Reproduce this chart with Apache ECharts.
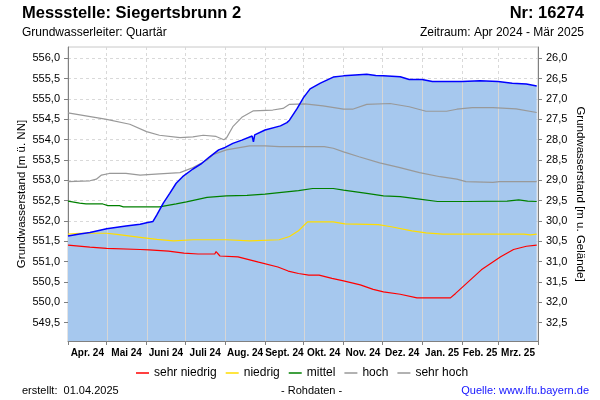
<!DOCTYPE html>
<html><head><meta charset="utf-8">
<script src="https://cdn.jsdelivr.net/npm/echarts@6/dist/echarts.min.js"></script>
<style>html,body{margin:0;padding:0;background:#fff}#c{width:600px;height:400px}</style>
</head><body><div id="c"></div>
<script>
// ---- data ----
const monthLabels = ['Apr. 24','Mai 24','Juni 24','Juli 24','Aug. 24','Sept. 24','Okt. 24','Nov. 24','Dez. 24','Jan. 25','Feb. 25','Mrz. 25'];
const monthStarts = ['2024-04-01','2024-05-01','2024-06-01','2024-07-01','2024-08-01','2024-09-01','2024-10-01','2024-11-01','2024-12-01','2025-01-01','2025-02-01','2025-03-01','2025-04-01'];
const leftTicks = [549.5,550.0,550.5,551.0,551.5,552.0,552.5,553.0,553.5,554.0,554.5,555.0,555.5,556.0];
const rightTicks = [26.0,26.5,27.0,27.5,28.0,28.5,29.0,29.5,30.0,30.5,31.0,31.5,32.0,32.5];
const groundLevel = 582.0;

const observed = [
 ['2024-04-01',551.63],['2024-04-10',551.68],['2024-04-18',551.72],['2024-05-01',551.81],['2024-05-16',551.88],
 ['2024-05-27',551.92],['2024-06-01',551.96],['2024-06-06',551.99],['2024-06-09',552.15],['2024-06-14',552.44],
 ['2024-06-19',552.68],['2024-06-24',552.93],['2024-06-29',553.09],['2024-07-07',553.28],['2024-07-14',553.42],
 ['2024-07-20',553.58],['2024-07-27',553.75],['2024-08-01',553.81],['2024-08-07',553.91],['2024-08-14',553.99],
 ['2024-08-22',554.09],['2024-08-23',553.95],['2024-08-24',554.12],['2024-09-01',554.24],['2024-09-13',554.34],
 ['2024-09-18',554.42],['2024-09-20',554.48],['2024-09-26',554.77],['2024-10-01',555.04],['2024-10-06',555.25],
 ['2024-10-14',555.39],['2024-10-24',555.54],['2024-11-01',555.57],['2024-11-10',555.59],['2024-11-19',555.61],
 ['2024-11-26',555.58],['2024-12-02',555.57],['2024-12-15',555.55],['2024-12-22',555.48],['2025-01-01',555.48],
 ['2025-01-09',555.43],['2025-01-23',555.43],['2025-02-01',555.43],['2025-02-15',555.45],['2025-03-01',555.43],
 ['2025-03-12',555.39],['2025-03-23',555.37],['2025-03-31',555.32]
];
const sehrHoch = [
 ['2024-04-01',554.66],['2024-05-01',554.50],['2024-05-19',554.38],['2024-06-01',554.20],['2024-06-11',554.11],
 ['2024-06-27',554.05],['2024-07-07',554.07],['2024-07-15',554.11],['2024-07-25',554.08],['2024-07-31',554.00],
 ['2024-08-02',554.04],['2024-08-07',554.32],['2024-08-14',554.55],['2024-08-23',554.71],['2024-09-07',554.73],
 ['2024-09-15',554.77],['2024-09-20',554.87],['2024-10-02',554.88],['2024-10-16',554.83],['2024-11-01',554.75],
 ['2024-11-08',554.75],['2024-11-19',554.87],['2024-12-07',554.89],['2024-12-22',554.81],['2025-01-04',554.70],
 ['2025-01-20',554.70],['2025-01-28',554.75],['2025-02-09',554.79],['2025-02-25',554.79],['2025-03-15',554.76],
 ['2025-03-31',554.67]
];
const hoch = [
 ['2024-04-01',552.97],['2024-04-18',552.99],['2024-04-23',553.03],['2024-04-27',553.13],['2024-05-03',553.17],
 ['2024-05-16',553.17],['2024-05-27',553.13],['2024-06-11',553.16],['2024-06-27',553.19],['2024-07-06',553.30],
 ['2024-07-18',553.50],['2024-07-23',553.64],['2024-08-02',553.75],['2024-08-20',553.85],['2024-09-01',553.85],
 ['2024-09-12',553.83],['2024-10-17',553.83],['2024-10-24',553.79],['2024-11-01',553.70],['2024-11-13',553.58],
 ['2024-11-29',553.43],['2024-12-14',553.32],['2024-12-30',553.19],['2025-01-15',553.09],['2025-01-28',553.03],
 ['2025-02-04',552.97],['2025-02-25',552.95],['2025-03-02',552.97],['2025-03-31',552.97]
];
const mittel = [
 ['2024-04-01',552.49],['2024-04-10',552.44],['2024-04-15',552.42],['2024-04-28',552.42],['2024-05-02',552.38],
 ['2024-05-11',552.38],['2024-05-14',552.35],['2024-06-11',552.35],['2024-06-24',552.42],['2024-07-02',552.47],
 ['2024-07-18',552.58],['2024-08-02',552.62],['2024-08-18',552.63],['2024-09-01',552.66],['2024-09-12',552.70],
 ['2024-09-27',552.75],['2024-10-08',552.80],['2024-10-24',552.80],['2024-11-01',552.76],['2024-11-19',552.68],
 ['2024-12-02',552.62],['2024-12-15',552.60],['2024-12-30',552.54],['2025-01-13',552.48],['2025-02-04',552.48],
 ['2025-03-08',552.49],['2025-03-17',552.52],['2025-03-24',552.49],['2025-03-31',552.48]
];
const niedrig = [
 ['2024-04-01',551.68],['2024-04-10',551.70],['2024-05-01',551.70],['2024-05-09',551.67],['2024-05-27',551.60],
 ['2024-06-09',551.55],['2024-06-22',551.51],['2024-07-07',551.54],['2024-08-02',551.54],['2024-08-20',551.51],
 ['2024-09-12',551.54],['2024-09-20',551.62],['2024-09-27',551.76],['2024-10-04',551.98],['2024-10-24',551.98],
 ['2024-11-02',551.93],['2024-11-28',551.91],['2024-12-08',551.86],['2024-12-24',551.76],['2025-01-04',551.71],
 ['2025-01-17',551.68],['2025-03-21',551.68],['2025-03-26',551.66],['2025-03-31',551.68]
];
const sehrNiedrig = [
 ['2024-04-01',551.41],['2024-04-18',551.36],['2024-05-01',551.33],['2024-05-27',551.30],['2024-06-03',551.29],
 ['2024-06-18',551.26],['2024-06-30',551.21],['2024-07-11',551.19],['2024-07-24',551.19],['2024-07-25',551.25],
 ['2024-07-28',551.14],['2024-08-11',551.12],['2024-08-27',550.99],['2024-09-11',550.87],['2024-09-19',550.77],
 ['2024-09-27',550.71],['2024-10-05',550.67],['2024-10-13',550.67],['2024-10-23',550.59],['2024-11-01',550.53],
 ['2024-11-14',550.43],['2024-11-24',550.32],['2024-12-02',550.26],['2024-12-15',550.20],['2024-12-28',550.11],
 ['2025-01-23',550.11],['2025-01-27',550.22],['2025-02-06',550.51],['2025-02-16',550.80],['2025-03-03',551.12],
 ['2025-03-13',551.30],['2025-03-23',551.38],['2025-03-31',551.41]
];

// ---- helpers ----
const T = s => Date.parse(s + 'T00:00:00Z');
const toXY = arr => arr.map(p => [T(p[0]), p[1]]);
const yMin = 549.05, yMax = 556.28;
const xMin = T(monthStarts[0]), xMax = T(monthStarts[monthStarts.length - 1]);
const tickTs = monthStarts.map(T);
const labelTs = monthLabels.map((_, i) => (tickTs[i] + tickTs[i + 1]) / 2);
const fmt = v => v.toFixed(1).replace('.', ',');
const obsXY = toXY(observed);
function levelAt(ts) {
  for (let i = 0; i < obsXY.length - 1; i++) {
    const a = obsXY[i], b = obsXY[i + 1];
    if (ts >= a[0] && ts <= b[0]) return a[1] + (b[1] - a[1]) * (ts - a[0]) / (b[0] - a[0]);
  }
  return obsXY[obsXY.length - 1][1];
}
const fillLines = tickTs.slice(1, -1).map(ts => [ts, levelAt(ts)]);

const FONT = 'Liberation Sans, Arial, sans-serif';
const chart = echarts.init(document.getElementById('c'), null, {renderer: 'canvas'});
const statLine = (name, data, color) => ({
  name, type: 'line', data: toXY(data), showSymbol: false, symbol: 'none', z: 3,
  lineStyle: {color, width: 1.2}, itemStyle: {color}, animation: false
});
chart.setOption({
  animation: false,
  textStyle: {fontFamily: FONT, color: '#000'},
  title: [
    {text: 'Messstelle: Siegertsbrunn 2', left: 22, top: 5, padding: 0, textStyle: {fontSize: 16.5, fontWeight: 'bold', color: '#000', fontFamily: FONT}},
    {text: 'Nr: 16274', right: 16, top: 5, padding: 0, textStyle: {fontSize: 16.5, fontWeight: 'bold', color: '#000', fontFamily: FONT}},
    {text: 'Grundwasserleiter: Quartär', left: 22, top: 27, padding: 0, textStyle: {fontSize: 12, fontWeight: 'normal', color: '#000', fontFamily: FONT}},
    {text: 'Zeitraum: Apr 2024 - Mär 2025', right: 16, top: 27, padding: 0, textStyle: {fontSize: 12, fontWeight: 'normal', color: '#000', fontFamily: FONT}},
    {text: 'erstellt:  01.04.2025', left: 22, top: 385, padding: 0, textStyle: {fontSize: 11, fontWeight: 'normal', color: '#000', fontFamily: FONT}},
    {text: '- Rohdaten -', left: 281, top: 385, padding: 0, textStyle: {fontSize: 11, fontWeight: 'normal', color: '#000', fontFamily: FONT}},
    {text: 'Quelle: www.lfu.bayern.de', right: 11, top: 385, padding: 0, textStyle: {fontSize: 11, fontWeight: 'normal', color: '#1414ff', fontFamily: FONT}}
  ],
  legend: {
    data: ['sehr niedrig', 'niedrig', 'mittel', 'hoch', 'sehr hoch'],
    left: 136, top: 367, padding: 0, itemGap: 9, itemWidth: 13, itemHeight: 1.5, icon: 'rect',
    textStyle: {fontSize: 12, color: '#000', fontFamily: FONT}, selectedMode: false
  },
  grid: {left: 68, right: 62, top: 47, bottom: 59, show: true, borderColor: '#c8c8c8', borderWidth: 1, backgroundColor: 'transparent'},
  xAxis: {
    type: 'value', min: xMin, max: xMax,
    axisLine: {show: true, onZero: false, lineStyle: {color: '#808080'}},
    axisTick: {show: true, customValues: tickTs, length: 4, lineStyle: {color: '#808080'}},
    axisLabel: {show: true, customValues: labelTs, margin: 7, fontSize: 10, fontWeight: 'bold', color: '#000', fontFamily: FONT,
      formatter: v => { let k = 0, best = Infinity; labelTs.forEach((t, i) => { const d = Math.abs(t - v); if (d < best) { best = d; k = i; } }); return monthLabels[k]; }},
    splitLine: {show: true, lineStyle: {color: '#d9d9d9', type: [3, 3]}}
  },
  yAxis: [
    {
      type: 'value', min: yMin, max: yMax, position: 'left',
      name: 'Grundwasserstand [m ü. NN]', nameLocation: 'middle', nameRotate: 90, nameGap: 40, nameMoveOverlap: false,
      nameTextStyle: {fontSize: 11.5, color: '#000', fontFamily: FONT},
      axisLine: {show: true, lineStyle: {color: '#808080'}},
      axisTick: {show: true, customValues: leftTicks, length: 4, lineStyle: {color: '#808080'}},
      axisLabel: {customValues: leftTicks, formatter: fmt, fontSize: 11, color: '#000', margin: 8, fontFamily: FONT},
      splitLine: {show: true, lineStyle: {color: '#d9d9d9', type: [3, 3]}}
    },
    {
      type: 'value', inverse: true, min: groundLevel - yMax, max: groundLevel - yMin, position: 'right',
      name: 'Grundwasserstand [m u. Gelände]', nameLocation: 'middle', nameRotate: -90, nameGap: 36, nameMoveOverlap: false,
      nameTextStyle: {fontSize: 11.5, color: '#000', fontFamily: FONT},
      axisLine: {show: true, lineStyle: {color: '#808080'}},
      axisTick: {show: true, customValues: rightTicks, length: 4, lineStyle: {color: '#808080'}},
      axisLabel: {customValues: rightTicks, formatter: fmt, fontSize: 11, color: '#000', margin: 8, fontFamily: FONT},
      splitLine: {show: false}
    }
  ],
  series: [
    {name: 'fill', type: 'line', data: obsXY, showSymbol: false, symbol: 'none', z: 1,
     lineStyle: {width: 0, opacity: 0}, areaStyle: {color: '#a6c8ee', opacity: 1, origin: 'start'}, silent: true},
    {name: 'grid', type: 'custom', data: fillLines, z: 2, silent: true,
     renderItem: (params, api) => {
       const x = api.value(0), v = api.value(1);
       const p0 = api.coord([x, yMin]), p1 = api.coord([x, v]);
       const px = Math.round(p0[0]) + 0.5;
       return {type: 'line', shape: {x1: px, y1: p0[1], x2: px, y2: p1[1]}, style: {stroke: '#d6d6d6', lineWidth: 1}};
     }},
    statLine('sehr niedrig', sehrNiedrig, '#ff0000'),
    statLine('niedrig', niedrig, '#ffdd00'),
    statLine('mittel', mittel, '#008000'),
    statLine('hoch', hoch, '#999999'),
    statLine('sehr hoch', sehrHoch, '#999999'),
    {name: 'Messwerte', type: 'line', data: obsXY, showSymbol: false, symbol: 'none', z: 4,
     lineStyle: {color: '#0000ff', width: 1.5}}
  ]
});
</script></body></html>
